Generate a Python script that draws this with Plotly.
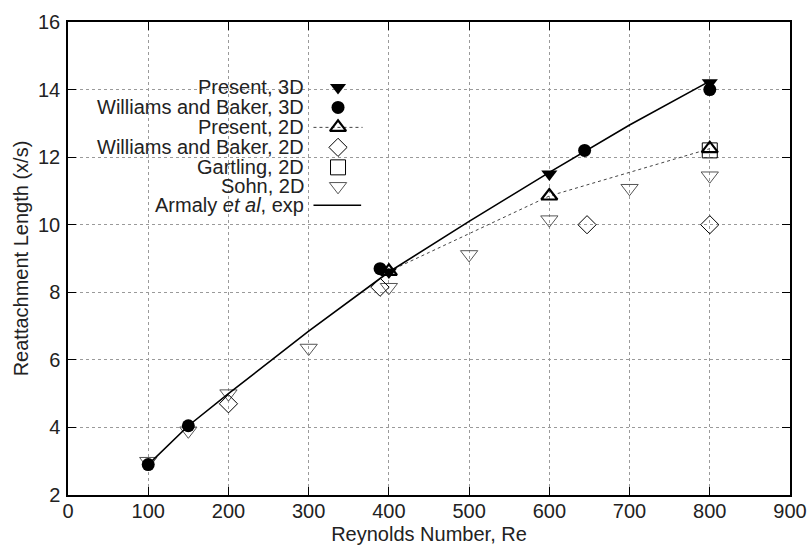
import plotly.graph_objects as go

# ---- data ----
re_p3d = [400, 600, 800]
lr_p3d = [8.6, 11.5, 14.2]

re_wb3d = [100, 150, 389, 644, 800]
lr_wb3d = [2.9, 4.05, 8.7, 12.2, 14.0]

re_p2d = [400, 600, 800]
lr_p2d = [8.62, 10.85, 12.25]

re_wb2d = [200, 389, 647, 800]
lr_wb2d = [4.7, 8.15, 10.0, 10.0]

re_gart = [800]
lr_gart = [12.2]

re_sohn = [100, 150, 200, 300, 400, 500, 600, 700, 800]
lr_sohn = [3.0, 3.9, 5.0, 6.35, 8.15, 9.12, 10.15, 11.08, 11.45]

re_arm = [100, 150, 200, 300, 400, 500, 600, 700, 800]
lr_arm = [2.9, 4.05, 5.0, 6.85, 8.6, 10.1, 11.55, 12.95, 14.25]

legend_names = ["Present, 3D", "Williams and Baker, 3D", "Present, 2D",
                "Williams and Baker, 2D", "Gartling, 2D", "Sohn, 2D",
                "Armaly <i>et al</i>, exp"]

FONT = "Liberation Sans, Arial, Helvetica, sans-serif"
GRAY = "#555555"
TXT = "#222222"

styles = {
    "p3d": dict(symbol="triangle-down", size=14, color="black", line=dict(width=0)),
    "wb3d": dict(symbol="circle", size=13, color="black", line=dict(width=0)),
    "p2d": dict(symbol="triangle-up-open", size=14, color="black", line=dict(width=2.2, color="black")),
    "wb2d": dict(symbol="diamond-open", size=14, color="black", line=dict(width=1, color="black")),
    "gart": dict(symbol="square-open", size=15, color="black", line=dict(width=1, color="black")),
    "sohn": dict(symbol="triangle-down-open", size=15, color=GRAY, line=dict(width=1, color=GRAY)),
}

fig = go.Figure()

fig.add_trace(go.Scatter(x=re_sohn, y=lr_sohn, mode="markers", marker=styles["sohn"], showlegend=False))
fig.add_trace(go.Scatter(x=re_wb2d, y=lr_wb2d, mode="markers", marker=styles["wb2d"], showlegend=False))
fig.add_trace(go.Scatter(x=re_gart, y=lr_gart, mode="markers", marker=styles["gart"], showlegend=False))
fig.add_trace(go.Scatter(x=re_p2d, y=lr_p2d, mode="lines+markers", marker=styles["p2d"],
                         line=dict(color="#444444", width=1, dash="dot"), showlegend=False))
fig.add_trace(go.Scatter(x=re_arm, y=lr_arm, mode="lines",
                         line=dict(color="black", width=1.6), showlegend=False))
fig.add_trace(go.Scatter(x=re_wb3d, y=lr_wb3d, mode="markers", marker=styles["wb3d"], showlegend=False))
fig.add_trace(go.Scatter(x=re_p3d, y=lr_p3d, mode="markers", marker=styles["p3d"], showlegend=False))

# ---- custom legend (text left, symbol right) on an overlay paper-like axis ----
leg_rows = [0.8617, 0.8194, 0.7772, 0.7350, 0.6927, 0.6526, 0.6125]
sym_x = 0.374
text_x = 0.328
keys = ["p3d", "wb3d", "p2d", "wb2d", "gart", "sohn"]
for i, k in enumerate(keys):
    yy = leg_rows[i]
    if k == "p2d":
        fig.add_trace(go.Scatter(x=[0.340, 0.408], y=[yy, yy], mode="lines", xaxis="x2", yaxis="y2",
                                 line=dict(color="#444444", width=1, dash="dot"), showlegend=False,
                                 hoverinfo="skip"))
    fig.add_trace(go.Scatter(x=[sym_x], y=[yy], mode="markers", marker=styles[k], xaxis="x2", yaxis="y2",
                             showlegend=False, hoverinfo="skip"))
fig.add_trace(go.Scatter(x=[0.340, 0.406], y=[leg_rows[6], leg_rows[6]], mode="lines", xaxis="x2", yaxis="y2",
                         line=dict(color="black", width=1.6), showlegend=False, hoverinfo="skip"))

annotations = []
for i, name in enumerate(legend_names):
    annotations.append(dict(x=text_x, y=leg_rows[i], xref="paper", yref="paper", text=name,
                            showarrow=False, xanchor="right", yanchor="middle", borderpad=0,
                            font=dict(family=FONT, size=20, color=TXT)))

axis_common = dict(showline=True, linecolor="black", linewidth=1.5, mirror="ticks",
                   ticks="inside", ticklen=8, tickwidth=1.2, tickcolor="black",
                   showgrid=True, gridcolor="#9a9a9a", griddash="dot", gridwidth=1,
                   zeroline=False, automargin=False,
                   tickfont=dict(family=FONT, size=20, color=TXT))

fig.update_layout(
    width=810, height=545,
    margin=dict(l=67.5, r=20, t=21.5, b=50),
    paper_bgcolor="white", plot_bgcolor="white",
    font=dict(family=FONT, size=20, color=TXT),
    xaxis=dict(range=[0, 900], dtick=100, tick0=0, ticklabelstandoff=-3,
               title=dict(text="Reynolds Number, Re", standoff=12,
                          font=dict(family=FONT, size=20, color=TXT)),
               **axis_common),
    yaxis=dict(range=[2, 16], dtick=2, tick0=2, ticklabelstandoff=2,
               title=dict(text="Reattachment Length (x/s)", standoff=4,
                          font=dict(family=FONT, size=20, color=TXT)),
               **axis_common),
    xaxis2=dict(range=[0, 1], overlaying="x", visible=False, fixedrange=True),
    yaxis2=dict(range=[0, 1], overlaying="y", visible=False, fixedrange=True),
    annotations=annotations,
    showlegend=False,
)

# remove the default 8px page margin so the 810x545 figure fills the window exactly
fig.write_html("out.html",
               config={"displayModeBar": False},
               post_script="document.body.style.margin='0';document.body.style.overflow='hidden';")
